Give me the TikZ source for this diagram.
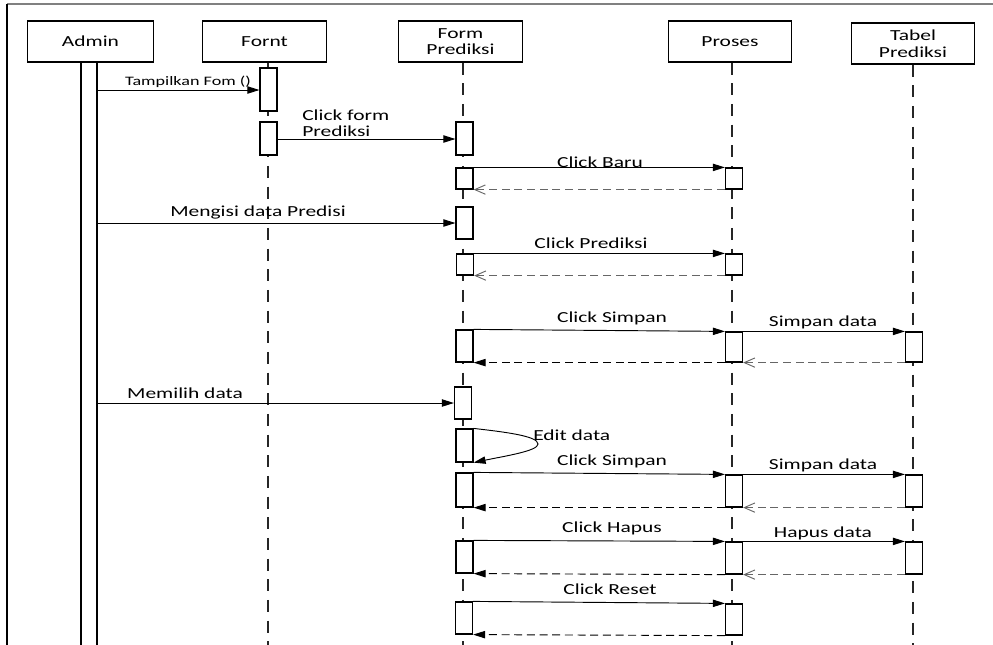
\documentclass[tikz,border=0pt]{standalone}
\usepackage{fontspec}
\setmainfont{Carlito}[FakeStretch=1.4]
\usetikzlibrary{arrows.meta}

% activation bar: name, x centre, top, bottom (pixel units)
\newcommand\actv[4]{%
  \pgfmathsetmacro\actcy{(#3+#4)/2}%
  \pgfmathsetmacro\actht{(#4-#3)*0.75}%
  \node[actbox, minimum height=\actht pt] (#1) at (#2,\actcy) {};%
}

\begin{document}
\begin{tikzpicture}[x=0.75pt,y=-0.75pt,
  font=\fontsize{11.5pt}{11.5pt}\selectfont,
  headbox/.style={draw, line width=0.9pt, minimum width=92.5pt, minimum height=30.75pt,
                  inner sep=0pt, align=center},
  actbox/.style={draw, fill=white, line width=0.9pt, minimum width=12.75pt, inner sep=0pt},
  lifeline/.style={draw=black!85, line width=0.9pt, dash pattern=on 9pt off 6.5pt},
  msg/.style={line width=0.7pt, -{Triangle[length=9pt,width=5.5pt]}},
  retfill/.style={line width=0.7pt, dash pattern=on 6pt off 3.5pt,
                  -{Triangle[length=9pt,width=5.5pt]}},
  retopen/.style={draw=black!60, line width=0.7pt, dash pattern=on 6pt off 3.5pt,
                  -{Straight Barb[length=8pt,width=7pt]}},
  lbl/.style={inner sep=0pt, anchor=base}
]
\path[use as bounding box] (0,0) rectangle (993,644);
\clip (0,0) rectangle (993,644);

% frame
\draw[draw=black!50, line width=1.5pt] (7,4) -- (993,4);
\draw[line width=1.1pt] (7,4) -- (7,650);

% participants
\node[headbox, minimum width=95pt] (admin) at (90.5,41.5) {Admin};
\node[headbox] (fornt) at (264.5,41.5) {Fornt};
\node[headbox, font=\fontsize{11.5pt}{11.5pt}\selectfont] (form) at (460.5,41.5) {Form\\Prediksi};
\node[headbox] (proses) at (730,41.5) {Proses};
\node[headbox, font=\fontsize{11.5pt}{13pt}\selectfont] (tabel) at (913,43.5) {Tabel\\Prediksi};

% lifelines
\coordinate (forntEnd) at (268,650);
\coordinate (formEnd) at (463,650);
\coordinate (prosesEnd) at (732,650);
\coordinate (tabelEnd) at (913,650);
\draw[lifeline] (fornt.south -| forntEnd) -- (forntEnd);
\draw[lifeline] (form.south -| formEnd) -- (formEnd);
\draw[lifeline] (proses.south -| prosesEnd) -- (prosesEnd);
\draw[lifeline] (tabel.south -| tabelEnd) -- (tabelEnd);

% admin activation, running past the bottom edge
\node[actbox, minimum width=12pt, minimum height=448.5pt] (adminbar) at (89,361) {};

% activation bars
\actv{fa1}{268.5}{68}{111}
\actv{fa2}{268.5}{122}{155}
\actv{f1}{464.5}{122}{155}
\actv{f2}{464.5}{168}{189}
\actv{p1}{734}{168}{189}
\actv{f3}{464.5}{207}{239}
\actv{f4}{465}{254}{275}
\actv{p2}{734}{254}{275}
\actv{f5}{464.5}{330}{362}
\actv{p3}{734}{332}{362}
\actv{t1}{914}{332}{362}
\actv{f6}{463}{387}{419}
\actv{f7}{464.5}{429}{462}
\actv{f8}{464.5}{473}{507}
\actv{p4}{734}{475}{507}
\actv{t2}{914}{475}{507}
\actv{f9}{464.5}{541}{573}
\actv{p5}{734}{542}{574}
\actv{t3}{914}{542}{574}
\actv{f10}{464}{602}{634}
\actv{p6}{734}{604}{635}

% messages
\draw[msg] (adminbar.east |- 0,90) -- (fa1.west |- 0,90);
\draw[msg] (fa2.east |- 0,139) -- (f1.west |- 0,139);
\draw[msg] (f2.north east) -- (p1.north west);
\draw[retopen] (p1.south west) -- (f2.south east);
\draw[msg] (adminbar.east |- 0,223) -- (f3.west |- 0,223);
\draw[msg] (f4.north east) -- (p2.north west);
\draw[retopen] (p2.south west) -- (f4.south east);
\draw[msg] (f5.north east) -- (p3.north west);
\draw[msg] (p3.north east) -- (t1.north west);
\draw[retopen] (t1.south west) -- (p3.south east);
\draw[retfill] (p3.south west) -- (f5.south east);
\draw[msg] (adminbar.east |- 0,403) -- (f6.west |- 0,403);
\draw[msg] (f7.north east) .. controls (505,432) and (538,436) .. (538,444)
           .. controls (538,451) and (505,456) .. (f7.south east);
\draw[msg] (f8.north east) -- (p4.north west);
\draw[msg] (p4.north east) -- (t2.north west);
\draw[retopen] (t2.south west) -- (p4.south east);
\draw[retfill] (p4.south west) -- (f8.south east);
\draw[msg] (f9.north east) -- (p5.north west);
\draw[msg] (p5.north east) -- (t3.north west);
\draw[retopen] (t3.south west) -- (p5.south east);
\draw[retfill] (p5.south west) -- (f9.south east);
\draw[msg] (f10.north east) -- (p6.north west);
\draw[retfill] (p6.south west) -- (f10.south east);

% message labels
\node[lbl, font=\fontsize{9.7pt}{9.7pt}\selectfont] (lTamp) at (188,85) {Tampilkan Fom ()};
\node[lbl, anchor=base west] (lClickForm) at (302,120) {Click form};
\node[lbl, anchor=base west] (lClickForm2) at (302,136) {Prediksi};
\node[lbl] (lBaru) at (600,167.5) {Click Baru};
\node[lbl] (lIsi) at (258,216) {Mengisi data Predisi};
\node[lbl] (lPred) at (591,248) {Click Prediksi};
\node[lbl] (lSimpan1) at (612,322) {Click Simpan};
\node[lbl] (lSData1) at (823,326) {Simpan data};
\node[lbl] (lPilih) at (185,398) {Memilih data};
\node[lbl, anchor=base west] (lEdit) at (533,440) {Edit data};
\node[lbl] (lSimpan2) at (612,465) {Click Simpan};
\node[lbl] (lSData2) at (823,469) {Simpan data};
\node[lbl] (lHapus) at (612,532) {Click Hapus};
\node[lbl] (lHData) at (823,537) {Hapus data};
\node[lbl] (lReset) at (610,594) {Click Reset};
\end{tikzpicture}
\end{document}
